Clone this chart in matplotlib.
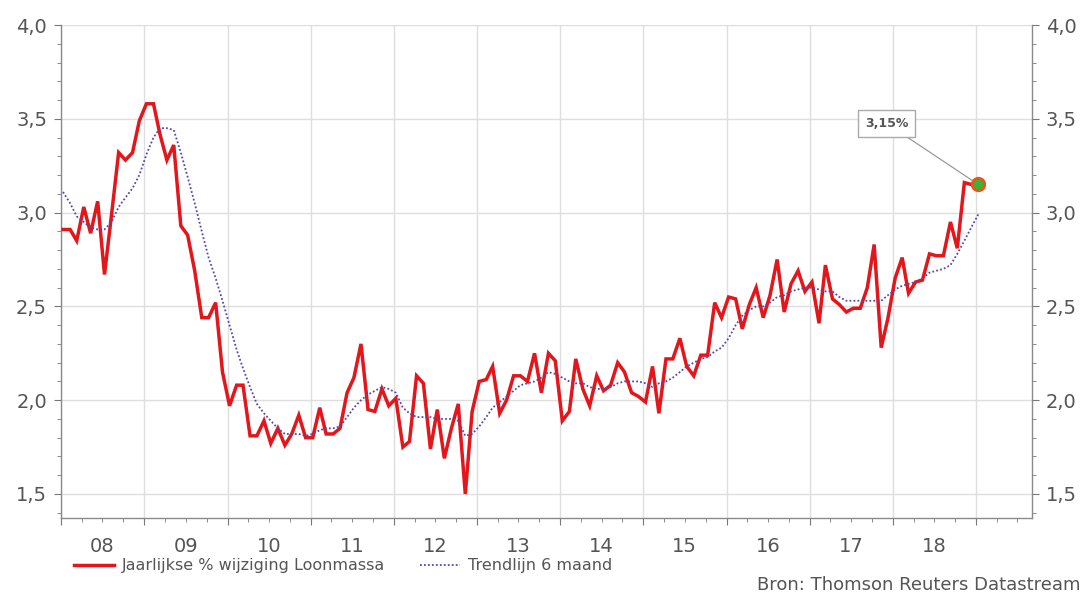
import numpy as np
import pandas as pd
import matplotlib
matplotlib.use("Agg")
import matplotlib.pyplot as plt
import matplotlib.dates as mdates
from matplotlib.ticker import MultipleLocator, FuncFormatter, NullFormatter

# --- Daten (maandelijks, vanaf jan 2008) ---
START = "2008-01-01"

loonmassa = [
    2.91, 2.91, 2.85, 3.03, 2.89, 3.06, 2.67, 2.99, 3.32, 3.28, 3.32, 3.49,
    3.58, 3.58, 3.42, 3.28, 3.36, 2.93, 2.88, 2.69, 2.44, 2.44, 2.52, 2.15,
    1.97, 2.08, 2.08, 1.81, 1.81, 1.89, 1.77, 1.85, 1.76, 1.82, 1.92, 1.80,
    1.80, 1.96, 1.82, 1.82, 1.85, 2.04, 2.12, 2.30, 1.95, 1.94, 2.06, 1.97,
    2.01, 1.75, 1.78, 2.13, 2.09, 1.74, 1.95, 1.69, 1.85, 1.98, 1.50, 1.94,
    2.10, 2.11, 2.18, 1.93, 2.00, 2.13, 2.13, 2.10, 2.25, 2.04, 2.25, 2.21,
    1.89, 1.94, 2.22, 2.06, 1.97, 2.13, 2.05, 2.08, 2.20, 2.15, 2.04, 2.02,
    1.99, 2.18, 1.93, 2.22, 2.22, 2.33, 2.18, 2.13, 2.24, 2.24, 2.52, 2.44,
    2.55, 2.54, 2.38, 2.51, 2.60, 2.44, 2.56, 2.75, 2.47, 2.62, 2.69, 2.58,
    2.63, 2.41, 2.72, 2.54, 2.51, 2.47, 2.49, 2.49, 2.60, 2.83, 2.28, 2.44,
    2.65, 2.76, 2.57, 2.63, 2.64, 2.78, 2.77, 2.77, 2.95, 2.81, 3.16, 3.15,
    3.15,
]

trend = [
    3.11, 3.05, 2.98, 2.95, 2.92, 2.91, 2.91, 2.95, 3.03, 3.08, 3.13, 3.20,
    3.31, 3.40, 3.45, 3.45, 3.44, 3.32, 3.19, 3.05, 2.90, 2.76, 2.65, 2.53,
    2.40, 2.27, 2.17, 2.07, 1.98, 1.93, 1.89, 1.85, 1.82, 1.82, 1.82, 1.81,
    1.82, 1.84, 1.85, 1.85, 1.86, 1.91, 1.96, 2.00, 2.03, 2.05, 2.07, 2.06,
    2.04, 1.96, 1.93, 1.91, 1.91, 1.91, 1.90, 1.90, 1.90, 1.89, 1.81, 1.82,
    1.86, 1.91, 1.96, 1.99, 2.02, 2.05, 2.08, 2.09, 2.10, 2.12, 2.15, 2.14,
    2.12, 2.10, 2.09, 2.09, 2.07, 2.06, 2.06, 2.07, 2.09, 2.10, 2.10, 2.10,
    2.09, 2.07, 2.09, 2.10, 2.12, 2.15, 2.18, 2.20, 2.22, 2.23, 2.26, 2.28,
    2.33, 2.40, 2.45, 2.48, 2.50, 2.50, 2.52, 2.55, 2.56, 2.58, 2.59, 2.60,
    2.60, 2.59, 2.58, 2.58, 2.55, 2.53, 2.53, 2.53, 2.53, 2.53, 2.53, 2.56,
    2.59, 2.61, 2.62, 2.63, 2.65, 2.68, 2.69, 2.70, 2.72, 2.78, 2.85, 2.92,
    2.99,
]

LABEL_LOON = "Jaarlijkse % wijziging Loonmassa"
LABEL_TREND = "Trendlijn 6 maand"
BRON = "Bron: Thomson Reuters Datastream"
LAATSTE = "3,15%"
LAATSTE_JAAR = 2018

# brede letters, zoals in het origineel
plt.rcParams["font.family"] = ["DejaVu Sans"]

datums = pd.date_range(START, periods=len(loonmassa), freq="MS") + pd.Timedelta(days=9)

fig = plt.figure(figsize=(10.89, 5.97), dpi=100)
ax = fig.add_axes([61 / 1089, 1 - 518 / 597, (1032 - 61) / 1089, (518 - 25) / 597])

l1, = ax.plot(datums, loonmassa, color="#e3161b", lw=2.5, solid_joinstyle="miter",
              label=LABEL_LOON, zorder=3)
l2, = ax.plot(datums, trend, color="#5b46a8", lw=1.3, linestyle=(0, (1, 1.2)),
              label=LABEL_TREND, zorder=4)

# laatste punt markeren
ax.plot(datums[-1], loonmassa[-1], marker="o", ms=9, mfc="#3fae3a", mec="#e8561a",
        mew=2, zorder=5)
ax.annotate(LAATSTE, xy=(datums[-1], loonmassa[-1]), xytext=(-66, 44),
            textcoords="offset points", ha="center", va="center",
            fontsize=9, fontweight="bold", color="#555555",
            bbox=dict(boxstyle="square,pad=0.55", fc="white", ec="#aaaaaa", lw=1),
            arrowprops=dict(arrowstyle="-", color="#999999", lw=0.9,
                            shrinkA=0, shrinkB=3))

ax.set_xlim(pd.Timestamp("2008-01-01"), pd.Timestamp("2019-09-03"))
ax.set_ylim(1.372, 4.0)

# x-as: jaargrenzen als rasterlijnen, labels midden in het jaar
ax.xaxis.set_major_locator(mdates.YearLocator())
ax.xaxis.set_major_formatter(NullFormatter())
ax.xaxis.set_minor_locator(mdates.MonthLocator(bymonth=[4, 7, 10]))


def jaar_label(x, pos):
    d = mdates.num2date(x)
    if d.month == 7 and d.year <= LAATSTE_JAAR:
        return d.strftime("%y")
    return ""


ax.xaxis.set_minor_formatter(FuncFormatter(jaar_label))

ax.yaxis.set_major_locator(MultipleLocator(0.5))
ax.yaxis.set_minor_locator(MultipleLocator(0.1))
ax.yaxis.set_major_formatter(FuncFormatter(lambda v, p: f"{v:.1f}".replace(".", ",")))

ax.tick_params(axis="both", which="both", direction="out", colors="#777777",
               labelcolor="#555555", labelsize=14)
ax.tick_params(axis="y", which="both", left=True, right=True,
               labelleft=True, labelright=True)
ax.tick_params(axis="y", which="major", length=5, pad=5)
ax.tick_params(axis="y", which="minor", length=3)
ax.tick_params(axis="x", which="major", length=5)
ax.tick_params(axis="x", which="minor", length=3, pad=11)

ax.grid(True, which="major", color="#dedede", lw=1.0)
ax.set_axisbelow(True)

ax.spines["top"].set_visible(False)
for s in ("left", "right", "bottom"):
    ax.spines[s].set_color("#8a8a8a")
    ax.spines[s].set_linewidth(1.0)

leg = fig.legend(handles=[l1, l2], loc="center left", bbox_to_anchor=(0.062, 0.052),
                 ncol=2, frameon=False, fontsize=11.5, handlelength=2.5,
                 columnspacing=2.2, handletextpad=0.5, borderaxespad=0)
for t in leg.get_texts():
    t.set_color("#555555")

fig.text(0.992, 0.02, BRON, ha="right", va="center", fontsize=13, color="#555555")

fig.savefig("out.png", dpi=100)
